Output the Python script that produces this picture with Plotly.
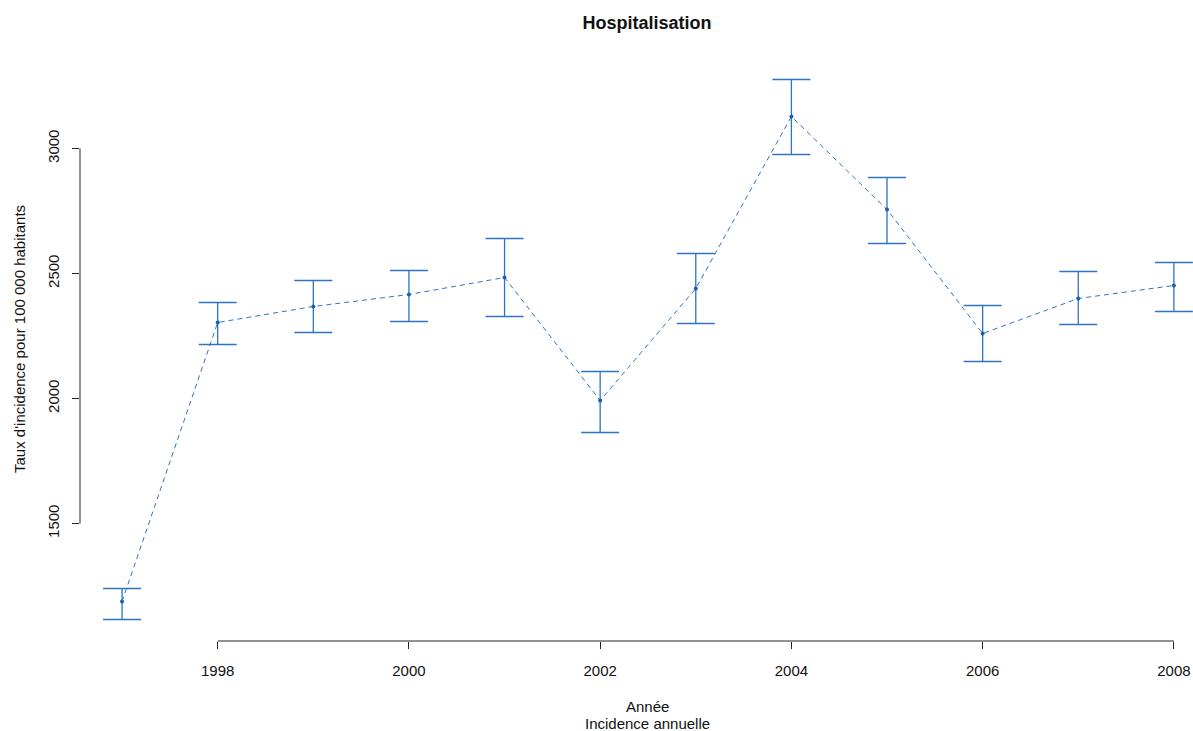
import plotly.graph_objects as go

# Annual hospitalisation incidence rates with confidence bounds
years = [1997, 1998, 1999, 2000, 2001, 2002, 2003, 2004, 2005, 2006, 2007, 2008]
rates = [1188, 2304, 2368, 2416, 2484, 1992, 2440, 3128, 2756, 2260, 2400, 2452]
upper = [1240, 2384, 2472, 2512, 2640, 2108, 2580, 3276, 2884, 2372, 2508, 2544]
lower = [1116, 2216, 2264, 2308, 2328, 1864, 2300, 2976, 2620, 2148, 2296, 2348]

x_ticks = [1998, 2000, 2002, 2004, 2006, 2008]
y_ticks = [1500, 2000, 2500, 3000]

blue = "#2f74c2"
axis_col = "#222222"
text_col = "#111111"
font_family = "Liberation Sans, Arial, sans-serif"
fsize = 15

fig = go.Figure()

fig.add_trace(go.Scatter(
    x=years,
    y=rates,
    mode="lines+markers",
    line=dict(color=blue, width=1, dash="5px,4px"),
    marker=dict(color="#1a5fb0", size=4),
    error_y=dict(
        type="data",
        symmetric=False,
        array=[u - r for u, r in zip(upper, rates)],
        arrayminus=[r - l for r, l in zip(rates, lower)],
        color=blue,
        thickness=1.3,
        width=19,
    ),
    showlegend=False,
    cliponaxis=False,
))

# Axis lines spanning only the tick range
fig.add_shape(type="line", xref="x", yref="paper",
              x0=x_ticks[0], x1=x_ticks[-1], y0=0, y1=0,
              line=dict(color=axis_col, width=1))
fig.add_shape(type="line", xref="paper", yref="y",
              x0=0, x1=0, y0=y_ticks[0], y1=y_ticks[-1],
              line=dict(color=axis_col, width=1))

fig.update_xaxes(
    range=[1996.56, 2008.2],
    tickvals=x_ticks,
    ticktext=[str(v) for v in x_ticks],
    ticks="outside", ticklen=7, tickcolor=axis_col, tickwidth=1,
    ticklabelstandoff=9,
    showline=False, showgrid=False, zeroline=False,
    tickfont=dict(family=font_family, size=fsize, color=text_col),
)
fig.update_yaxes(
    range=[1030, 3362],
    tickvals=y_ticks,
    ticktext=[str(v) for v in y_ticks],
    tickangle=-90,
    ticks="outside", ticklen=7, tickcolor=axis_col, tickwidth=1,
    ticklabelstandoff=7,
    showline=False, showgrid=False, zeroline=False,
    tickfont=dict(family=font_family, size=fsize, color=text_col),
)

fig.update_layout(
    width=1193, height=731,
    margin=dict(l=80, r=0, t=58, b=90),
    paper_bgcolor="white", plot_bgcolor="white",
    font=dict(family=font_family, color=text_col),
    title=dict(
        text="<b>Hospitalisation</b>",
        x=647 / 1193, xref="container", xanchor="center",
        y=1 - 23 / 731, yref="container", yanchor="middle",
        font=dict(family=font_family, size=18, color=text_col),
    ),
)

fig.add_annotation(text="Année", xref="paper", yref="paper",
                   x=(647 - 80) / 1113, y=-(706 - 641) / 583,
                   xanchor="center", yanchor="middle", showarrow=False,
                   font=dict(family=font_family, size=fsize, color=text_col))
fig.add_annotation(text="Incidence annuelle", xref="paper", yref="paper",
                   x=(647 - 80) / 1113, y=-(723 - 641) / 583,
                   xanchor="center", yanchor="middle", showarrow=False,
                   font=dict(family=font_family, size=fsize, color=text_col))
fig.add_annotation(text="Taux d'incidence pour 100 000 habitants",
                   xref="paper", yref="paper",
                   x=-(80 - 19) / 1113, y=(641 - 339) / 583,
                   xanchor="center", yanchor="middle", textangle=-90,
                   showarrow=False,
                   font=dict(family=font_family, size=fsize, color=text_col))

fig.write_html("out.html")
